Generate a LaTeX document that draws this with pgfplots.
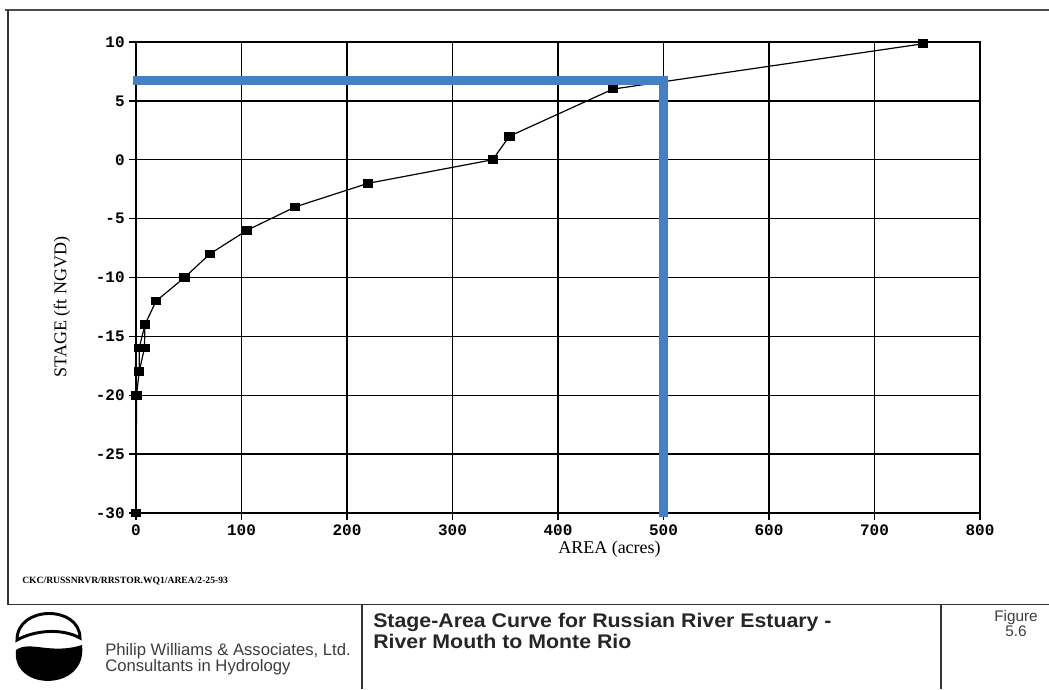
\documentclass[border=0pt]{standalone}
\usepackage{pgfplots}
\pgfplotsset{compat=1.18}
\usepackage{fontspec}
\setmainfont{Liberation Serif}
\setsansfont{Liberation Sans}
\newfontfamily\titlefont{Liberation Sans}[FakeStretch=1.08]
\newfontfamily\tickfont{Liberation Mono}

\definecolor{pwablue}{RGB}{70,128,196}
\definecolor{footgray}{RGB}{60,60,60}

\begin{document}
\begin{tikzpicture}
% sheet in pixel units, y downwards
\begin{scope}[x=0.75pt,y=-0.75pt]
  \path[use as bounding box] (0,0) rectangle (1049,689);
  \coordinate (plotsw) at (136,513);
  \draw[line width=1.1pt, black!70] (5,10) -- (1049,10);
  \draw[line width=1pt, black!80] (8,10) -- (8,604.5);
  \draw[line width=1pt, black!80] (8,604.5) -- (1049,604.5);
  \draw[line width=0.8pt, black!80] (362,604.5) -- (362,689);
  \draw[line width=0.8pt, black!80] (941,604.5) -- (941,689);
  \node[anchor=base west, inner sep=0, font=\fontsize{7.2}{8}\selectfont\bfseries]
    at (22,583) {CKC/RUSSNRVR/RRSTOR.WQ1/AREA/2-25-93};
  % logo
  \draw[line width=2.2pt] (17,640) .. controls (17,605) and (80,605) .. (80,638)
    .. controls (62,628) and (35,630) .. cycle;
  \fill (16,650) .. controls (30,640) and (50,655) .. (82,645)
    .. controls (88,692) and (11,692) .. cycle;
  \node[anchor=base west, inner sep=0, font=\sffamily\fontsize{12.5}{13}\selectfont, text=footgray]
    at (105,655) {Philip Williams \& Associates, Ltd.};
  \node[anchor=base west, inner sep=0, font=\sffamily\fontsize{12.5}{13}\selectfont, text=footgray]
    at (105,671) {Consultants in Hydrology};
  \node[anchor=base west, inner sep=0, font=\titlefont\bfseries\fontsize{14.8}{16}\selectfont, text=black!85]
    at (373,627) {Stage-Area Curve for Russian River Estuary -};
  \node[anchor=base west, inner sep=0, font=\titlefont\bfseries\fontsize{14.8}{16}\selectfont, text=black!85]
    at (373,648) {River Mouth to Monte Rio};
  \node[anchor=base, inner sep=0, font=\sffamily\fontsize{11.5}{12}\selectfont, text=footgray]
    at (1016,621) {Figure};
  \node[anchor=base, inner sep=0, font=\sffamily\fontsize{11.5}{12}\selectfont, text=footgray]
    at (1016,636) {5.6};
\end{scope}

\begin{axis}[
    at={(plotsw)}, anchor=south west,
    scale only axis, width=633pt, height=353.25pt,
    xmin=0, xmax=800,
    ymin=-30, ymax=10,
    xtick={0,100,...,800},
    ytick={-30,-25,...,10},
    tick pos=left,
    grid=major,
    grid style={black, line width=1pt},
    axis line style={line width=1.2pt},
    tick align=outside,
    major tick length=5pt,
    tick style={black, line width=1pt},
    ticklabel style={font=\tickfont\bfseries\fontsize{12}{12}\selectfont},
    /pgf/number format/assume math mode=true,
    xlabel={AREA (acres)},
    ylabel={STAGE (ft NGVD)},
    label style={font=\fontsize{13.5}{14}\selectfont},
    xlabel style={at={(axis description cs:0.561,-0.0764)}, anchor=center},
    ylabel style={at={(axis description cs:-0.0877,0.437)}, anchor=center},
    clip=false,
]
\addplot[black, line width=0.9pt, mark=square*, mark size=2.8pt, mark options={xscale=1.2}]
    coordinates {
    (0,-30)(0.5,-20)(3,-18)(8,-16)(8.5,-14)(19,-12)(46,-10)(70,-8)
    (105,-6)(151,-4)(220,-2)(338,0)(354,2)(452,6)(746,9.85)};
\addplot[black, line width=0.9pt, mark=square*, mark size=2.8pt, mark options={xscale=1.2}]
    coordinates {(3,-18)(3,-16)(8.5,-14)};
% blue reading lines
\addplot[pwablue, line width=6.5pt, line join=miter, mark=none]
    coordinates {(-3,6.75)(500,6.75)(500,-30.3)};
\end{axis}
\end{tikzpicture}
\end{document}
